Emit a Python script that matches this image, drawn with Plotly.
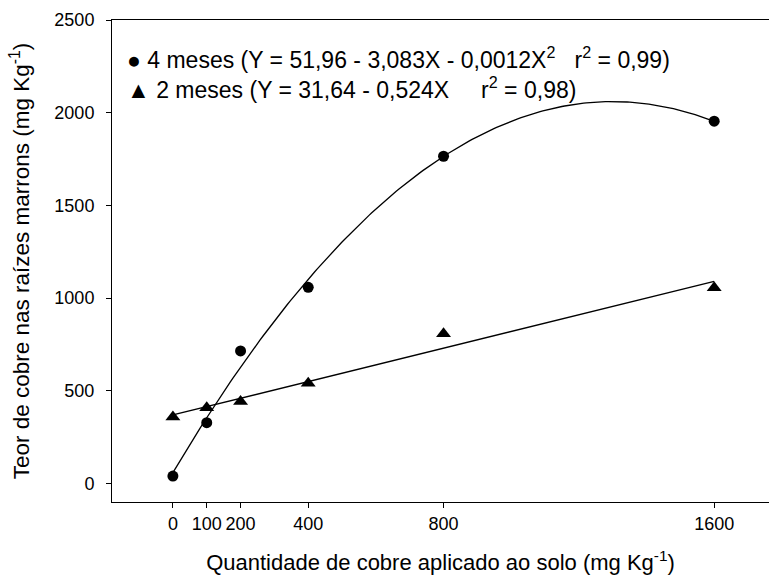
import numpy as np
import plotly.graph_objects as go

# Data
doses = [0, 100, 200, 400, 800, 1600]
cobre_4m = [40, 328, 715, 1058, 1765, 1954]
cobre_2m = [358, 408, 442, 541, 808, 1056]
x_ticks = [0, 100, 200, 400, 800, 1600]
y_ticks = [0, 500, 1000, 1500, 2000, 2500]

legend_4m = "\u25CF 4 meses (Y = 51,96 - 3,083X - 0,0012X<sup>2</sup>\u00a0\u00a0\u00a0r<sup>2</sup> = 0,99)"
legend_2m = "\u25B2 2 meses (Y = 31,64 - 0,524X\u00a0\u00a0\u00a0\u00a0\u00a0r<sup>2</sup> = 0,98)"

FONT = "Liberation Sans, Arial, sans-serif"

# regression curves fitted from the data
xs = np.linspace(min(doses), max(doses), 200)
q = np.polyfit(doses, cobre_4m, 2)
l = np.polyfit(doses, cobre_2m, 1)

fig = go.Figure()
fig.add_trace(go.Scatter(x=xs, y=np.polyval(q, xs), mode="lines",
                         line=dict(color="black", width=1.3), showlegend=False, hoverinfo="skip"))
fig.add_trace(go.Scatter(x=xs, y=np.polyval(l, xs), mode="lines",
                         line=dict(color="black", width=1.3), showlegend=False, hoverinfo="skip"))
fig.add_trace(go.Scatter(x=doses, y=cobre_4m, mode="markers", name="4 meses",
                         marker=dict(symbol="circle", size=11, color="black"), showlegend=False))
fig.add_trace(go.Scatter(x=doses, y=cobre_2m, mode="markers", name="2 meses",
                         marker=dict(symbol="triangle-up", size=13, color="black"), showlegend=False))

fig.add_annotation(xref="paper", yref="paper", x=0.02, y=0.922, xanchor="left", yanchor="middle",
                   text=legend_4m, showarrow=False, font=dict(family=FONT, size=23, color="black"))
fig.add_annotation(xref="paper", yref="paper", x=0.02, y=0.858, xanchor="left", yanchor="middle",
                   text=legend_2m, showarrow=False, font=dict(family=FONT, size=23, color="black"))

fig.update_layout(
    width=769, height=583,
    margin=dict(l=112, r=0, t=20, b=81),
    paper_bgcolor="white", plot_bgcolor="white",
    font=dict(family=FONT, size=18, color="black"),
    xaxis=dict(range=[-180, 1762], tickvals=x_ticks, ticktext=[str(v) for v in x_ticks],
               showline=True, mirror=True, linecolor="black", linewidth=1,
               ticks="outside", ticklen=5, tickcolor="black", showgrid=False, zeroline=False,
               ticklabelstandoff=0,
               title=dict(text="Quantidade de cobre aplicado ao solo (mg Kg<sup>-1</sup>)",
                          font=dict(size=22), standoff=22)),
    yaxis=dict(range=[-100, 2500], tickvals=y_ticks,
               showline=True, mirror=False, linecolor="black", linewidth=1,
               ticks="outside", ticklen=5, tickcolor="black", showgrid=False, zeroline=False,
               ticklabelstandoff=8,
               title=dict(text="Teor de cobre nas raízes marrons (mg Kg<sup>-1</sup>)",
                          font=dict(size=22.5), standoff=18)),
)

fig.write_html("out.html")
